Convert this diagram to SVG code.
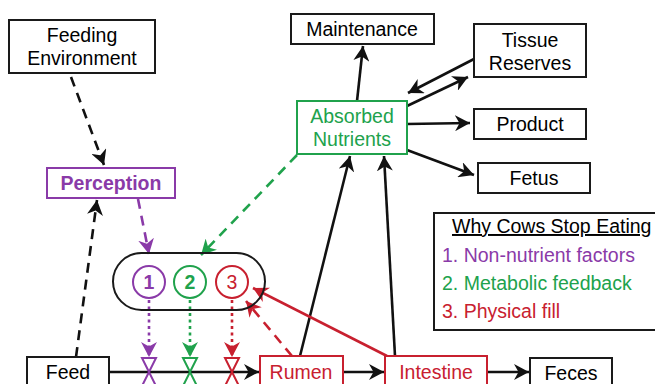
<svg xmlns="http://www.w3.org/2000/svg" width="655" height="384" viewBox="0 0 655 384">
<style>
  text { font-family: "Liberation Sans", Arial, sans-serif; font-size: 19.5px; text-anchor: middle; }
  .box { fill: #fff; stroke: #1a1a1a; stroke-width: 2; }
  .bk { stroke: #111; stroke-width: 2.6; fill: none; }
  .pu { stroke: #8a3aa8; }
  .gr { stroke: #20a24c; }
  .rd { stroke: #c8202f; }
  .dash { stroke-dasharray: 10 7; }
  .dot { stroke-dasharray: 3 3.5; }
</style>
<defs>
  <marker id="ak" markerUnits="userSpaceOnUse" markerWidth="17" markerHeight="16" refX="15" refY="8" orient="auto"><path d="M0,0 L15,8 L0,16 L4.5,8 z" fill="#111"/></marker>
  <marker id="ap" markerUnits="userSpaceOnUse" markerWidth="17" markerHeight="16" refX="15" refY="8" orient="auto"><path d="M0,0 L15,8 L0,16 L4.5,8 z" fill="#8a3aa8"/></marker>
  <marker id="ag" markerUnits="userSpaceOnUse" markerWidth="17" markerHeight="16" refX="15" refY="8" orient="auto"><path d="M0,0 L15,8 L0,16 L4.5,8 z" fill="#20a24c"/></marker>
  <marker id="ar" markerUnits="userSpaceOnUse" markerWidth="17" markerHeight="16" refX="15" refY="8" orient="auto"><path d="M0,0 L15,8 L0,16 L4.5,8 z" fill="#c8202f"/></marker>
</defs>
<rect width="655" height="384" fill="#fff"/>

<g id="connectors">
  <line class="bk dash" x1="71" y1="77" x2="104" y2="165" marker-end="url(#ak)"/>
  <line class="bk dash" x1="76" y1="357" x2="97" y2="200" marker-end="url(#ak)"/>
  <line class="bk pu dash" x1="138" y1="199" x2="149" y2="254" marker-end="url(#ap)"/>
  <line class="bk gr dash" x1="297" y1="155" x2="201" y2="255" marker-end="url(#ag)"/>
  <line class="bk pu dot" x1="149" y1="300" x2="149" y2="357" marker-end="url(#ap)"/>
  <line class="bk gr dot" x1="190" y1="300" x2="190" y2="357" marker-end="url(#ag)"/>
  <line class="bk rd dot" x1="232" y1="300" x2="232" y2="357" marker-end="url(#ar)"/>
  <line class="bk" x1="109" y1="372" x2="259" y2="372" marker-end="url(#ak)"/>
  <line class="bk" x1="343" y1="372" x2="384" y2="372" marker-end="url(#ak)"/>
  <line class="bk" x1="487" y1="372" x2="529" y2="372" marker-end="url(#ak)"/>
  <line class="bk" x1="300" y1="356" x2="350" y2="156" marker-end="url(#ak)"/>
  <line class="bk" x1="395" y1="356" x2="384" y2="156" marker-end="url(#ak)"/>
  <line class="bk rd" x1="387" y1="356" x2="253" y2="288" marker-end="url(#ar)"/>
  <line class="bk rd dash" x1="292" y1="356" x2="246" y2="301" marker-end="url(#ar)"/>
  <line class="bk" x1="357" y1="101" x2="363" y2="46" marker-end="url(#ak)"/>
  <line class="bk" x1="474" y1="59" x2="408" y2="93" marker-end="url(#ak)"/>
  <line class="bk" x1="407" y1="106" x2="468" y2="77" marker-end="url(#ak)"/>
  <line class="bk" x1="407" y1="124" x2="470" y2="123" marker-end="url(#ak)"/>
  <line class="bk" x1="407" y1="150" x2="474" y2="175" marker-end="url(#ak)"/>
</g>

<g id="valves" fill="none" stroke-width="2">
  <path d="M142,358 L156,358 L149,372 Z M149,372 L142,386 L156,386 Z" stroke="#8a3aa8"/>
  <path d="M183,358 L197,358 L190,372 Z M190,372 L183,386 L197,386 Z" stroke="#20a24c"/>
  <path d="M225,358 L239,358 L232,372 Z M232,372 L225,386 L239,386 Z" stroke="#c8202f"/>
</g>

<g id="feeding-environment">
  <rect class="box" x="9" y="20" width="146" height="53"/>
  <text x="82" y="42">Feeding</text>
  <text x="82" y="65">Environment</text>
</g>
<g id="perception">
  <rect class="box" x="47" y="168" width="128" height="30" style="stroke:#8a3aa8"/>
  <text x="111" y="190" font-weight="bold" fill="#8a3aa8">Perception</text>
</g>
<g id="stop-signals">
  <rect x="113" y="253" width="152" height="57" rx="28.5" fill="none" stroke="#1a1a1a" stroke-width="2"/>
  <circle cx="149" cy="282" r="16" fill="#fff" stroke="#8a3aa8" stroke-width="2"/>
  <text x="149" y="289" font-weight="bold" fill="#8a3aa8">1</text>
  <circle cx="190" cy="282" r="16" fill="#fff" stroke="#20a24c" stroke-width="2"/>
  <text x="190" y="289" font-weight="bold" fill="#20a24c">2</text>
  <circle cx="232" cy="282" r="16" fill="#fff" stroke="#c8202f" stroke-width="2"/>
  <text x="232" y="289" fill="#c8202f">3</text>
</g>
<g id="maintenance">
  <rect class="box" x="291" y="14" width="143" height="30"/>
  <text x="362" y="36">Maintenance</text>
</g>
<g id="tissue-reserves">
  <rect class="box" x="474" y="24" width="112" height="53"/>
  <text x="530" y="47">Tissue</text>
  <text x="530" y="70">Reserves</text>
</g>
<g id="absorbed-nutrients">
  <rect class="box" x="297" y="101" width="110" height="53" style="stroke:#20a24c"/>
  <text x="352" y="123" fill="#20a24c">Absorbed</text>
  <text x="352" y="146" fill="#20a24c">Nutrients</text>
</g>
<g id="product">
  <rect class="box" x="474" y="109" width="112" height="30"/>
  <text x="530" y="131">Product</text>
</g>
<g id="fetus">
  <rect class="box" x="478" y="163" width="112" height="30"/>
  <text x="534" y="185">Fetus</text>
</g>
<g id="legend">
  <rect class="box" x="434" y="213" width="230" height="117"/>
  <text x="452" y="233" style="text-anchor:start" text-decoration="underline">Why Cows Stop Eating</text>
  <text x="442" y="262" style="text-anchor:start" fill="#8a3aa8">1. Non-nutrient factors</text>
  <text x="442" y="290" style="text-anchor:start" fill="#20a24c">2. Metabolic feedback</text>
  <text x="442" y="318" style="text-anchor:start" fill="#c8202f">3. Physical fill</text>
</g>
<g id="feed">
  <rect class="box" x="27" y="357" width="82" height="40"/>
  <text x="68" y="379">Feed</text>
</g>
<g id="rumen">
  <rect class="box" x="260" y="356" width="83" height="40" style="stroke:#c8202f"/>
  <text x="301" y="379" fill="#c8202f">Rumen</text>
</g>
<g id="intestine">
  <rect class="box" x="385" y="356" width="102" height="40" style="stroke:#c8202f"/>
  <text x="436" y="379" fill="#c8202f">Intestine</text>
</g>
<g id="feces">
  <rect class="box" x="530" y="358" width="82" height="40"/>
  <text x="571" y="380">Feces</text>
</g>
</svg>
